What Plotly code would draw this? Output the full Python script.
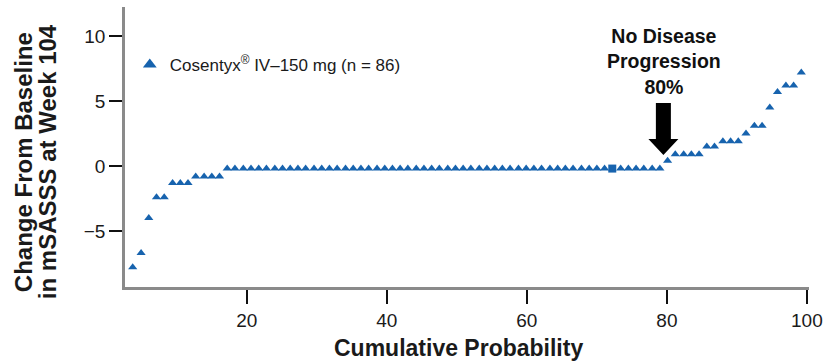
import plotly.graph_objects as go

# Cumulative probability (%) for each patient
cum_prob = [3.7, 4.9, 6.0, 7.1, 8.2, 9.4, 10.5, 11.6, 12.7, 13.9,
            15.0, 16.1, 17.2, 18.3, 19.5, 20.6, 21.7, 22.8, 24.0, 25.1,
            26.2, 27.3, 28.4, 29.6, 30.7, 31.8, 32.9, 34.1, 35.2, 36.3,
            37.4, 38.6, 39.7, 40.8, 41.9, 43.0, 44.2, 45.3, 46.4, 47.5,
            48.7, 49.8, 50.9, 52.0, 53.2, 54.3, 55.4, 56.5, 57.6, 58.8,
            59.9, 61.0, 62.1, 63.3, 64.4, 65.5, 66.6, 67.8, 68.9, 70.0,
            71.1, 72.2, 73.4, 74.5, 75.6, 76.7, 77.9, 79.0, 80.1, 81.2,
            82.4, 83.5, 84.6, 85.7, 86.8, 88.0, 89.1, 90.2, 91.3, 92.5,
            93.6, 94.7, 95.8, 97.0, 98.1, 99.2]

# Change from baseline in mSASSS at week 104 (sorted)
change = [-7.8, -6.7, -4.0, -2.4, -2.4, -1.3, -1.3, -1.3, -0.8, -0.8,
          -0.8, -0.8, -0.2, -0.2, -0.2, -0.2, -0.2, -0.2, -0.2, -0.2,
          -0.2, -0.2, -0.2, -0.2, -0.2, -0.2, -0.2, -0.2, -0.2, -0.2,
          -0.2, -0.2, -0.2, -0.2, -0.2, -0.2, -0.2, -0.2, -0.2, -0.2,
          -0.2, -0.2, -0.2, -0.2, -0.2, -0.2, -0.2, -0.2, -0.2, -0.2,
          -0.2, -0.2, -0.2, -0.2, -0.2, -0.2, -0.2, -0.2, -0.2, -0.2,
          -0.2, -0.2, -0.2, -0.2, -0.2, -0.2, -0.2, -0.2, 0.4, 0.9,
          0.9, 0.9, 0.9, 1.5, 1.5, 1.9, 1.9, 1.9, 2.5, 3.1,
          3.1, 4.5, 5.7, 6.2, 6.2, 7.2]

# point drawn as a square in the reference (index 61, zero-based)
square_index = 61

x_ticks = [20, 40, 60, 80, 100]
y_ticks = [-5, 0, 5, 10]
y_tick_text = ["\u22125", "0", "5", "10"]

series_name = "Cosentyx<sup>\u00ae</sup> IV\u2013150 mg (n = 86)"
y_title_lines = ["Change From Baseline", "in mSASSS at Week 104"]
x_title = "Cumulative Probability"
callout = "No Disease<br>Progression<br>80%"
arrow_x = 79.5
arrow_tip_y = 0.85

BLUE = "#1763ae"
FONT = "Liberation Sans, Arial, sans-serif"
TXT = "#1a1a1a"

assert len(cum_prob) == len(change) == 86

symbols = ["triangle-up"] * len(change)
symbols[square_index] = "square"

fig = go.Figure()
fig.add_trace(go.Scatter(
    x=cum_prob, y=change, mode="markers", name=series_name,
    marker=dict(symbol=symbols, size=8, color=BLUE, line=dict(width=0)),
    showlegend=True,
))

fig.update_layout(
    width=829, height=363,
    margin=dict(l=125, r=20, t=7, b=76),
    paper_bgcolor="white", plot_bgcolor="white",
    font=dict(family=FONT, color=TXT),
    xaxis=dict(range=[2.6, 100.3], tickvals=x_ticks, showgrid=False, zeroline=False,
               showline=True, linecolor="#8a8a8a", linewidth=2.5,
               ticks="outside", ticklen=14, tickwidth=2, tickcolor="#111",
               tickfont=dict(size=19, family=FONT, color=TXT)),
    yaxis=dict(range=[-9.31, 12.23], tickvals=y_ticks, ticktext=y_tick_text,
               showgrid=False, zeroline=False,
               showline=True, linecolor="#8a8a8a", linewidth=2.5,
               ticks="outside", ticklen=13, tickwidth=2, tickcolor="#111",
               tickfont=dict(size=19, family=FONT, color=TXT)),
    legend=dict(x=0.007, y=0.793, xanchor="left", yanchor="middle",
                bgcolor="rgba(0,0,0,0)", itemsizing="constant",
                font=dict(size=17, family=FONT, color=TXT)),
    showlegend=True,
)

for xp, line in zip([-0.149, -0.114], y_title_lines):
    fig.add_annotation(
        xref="paper", yref="paper", x=xp, y=0.446, xanchor="center", yanchor="middle",
        text="<b>" + line + "</b>", textangle=-90,
        showarrow=False, font=dict(size=24, family=FONT, color=TXT),
    )
fig.add_annotation(
    xref="paper", yref="paper", x=0.488, y=-0.2714, xanchor="center", yanchor="bottom",
    text="<b>" + x_title + "</b>", showarrow=False,
    font=dict(size=23, family=FONT, color=TXT),
)
fig.add_annotation(
    xref="x", yref="paper", x=79.6, y=0.807, xanchor="center", yanchor="middle",
    text="<b>" + callout + "</b>", showarrow=False,
    font=dict(size=19.5, family=FONT, color="#111"),
)

# block arrow, anchored at the 80% point, sized in pixels
fig.add_shape(
    type="path", xref="x", yref="y", xsizemode="pixel", ysizemode="pixel",
    xanchor=arrow_x, yanchor=arrow_tip_y,
    path="M0,0 L-15,16 L-7.5,16 L-7.5,52 L7.5,52 L7.5,16 L15,16 Z",
    fillcolor="black", line=dict(width=0),
)

fig.write_html("out.html")
